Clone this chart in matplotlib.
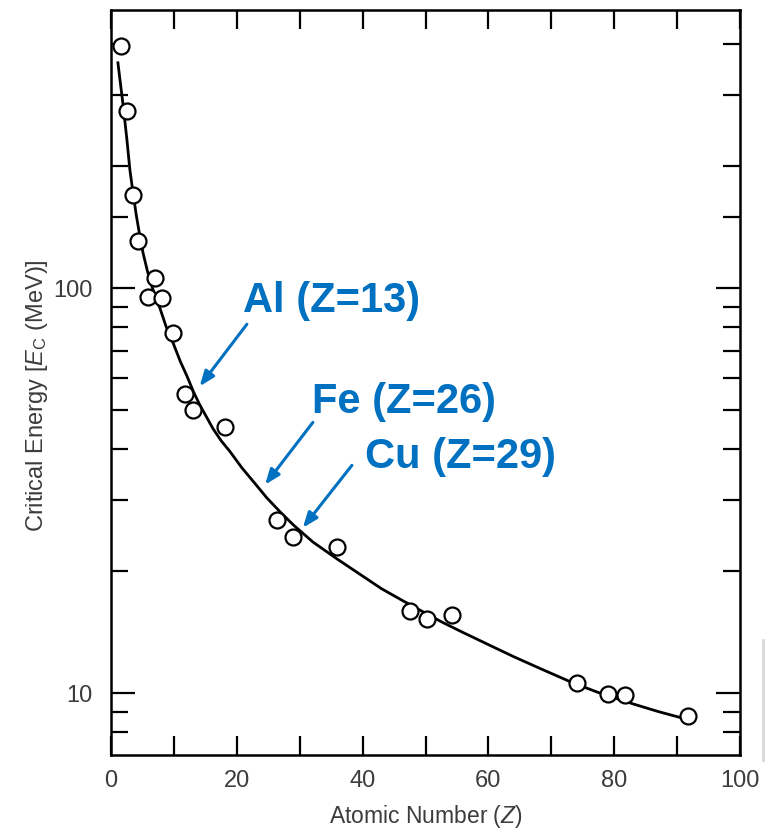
import numpy as np
import matplotlib
matplotlib.use("Agg")
import matplotlib.pyplot as plt
from matplotlib.lines import Line2D
from matplotlib.ticker import FixedLocator, NullFormatter
from matplotlib import font_manager

# --------------------------------------------------
# DATA
# --------------------------------------------------
# measured critical energies (open circles)
z_points = [1.6, 2.5, 3.5, 4.3, 5.9, 7.0, 8.1, 9.9, 11.8, 13.0, 18.1,
            26.4, 28.9, 35.9, 47.5, 50.2, 54.2, 74.1, 79.0, 81.7, 91.8]
ec_points = [395, 274, 170, 131, 95, 106, 94.5, 77.4, 54.6, 50.0, 45.3,
             26.8, 24.3, 23.0, 15.9, 15.2, 15.6, 10.6, 9.93, 9.9, 8.77]

# hand-drawn fit curve, traced point by point
z_curve = [1.1, 1.5, 1.9, 2.5, 3.0, 3.5, 4.0, 4.6, 5.1, 5.8, 6.5, 7.2, 7.8,
           8.8, 9.9, 11.0, 12.1, 13.1, 14.1, 15.2, 16.2, 17.5, 18.9, 20.8,
           22.9, 24.8, 26.9, 29.0, 32.1, 36.0, 40.1, 43.0, 46.4, 49.5, 52.5,
           56.0, 60.3, 64.0, 68.2, 73.4, 77.7, 83.0, 87.0, 90.5, 92.0]
ec_curve = [360, 320, 285, 235, 196, 172, 152, 134, 122, 110, 101, 94, 89,
            80, 73, 66, 60.5, 55.5, 51.5, 48, 45, 42, 39.5, 36,
            32.9, 30.3, 28.0, 26.0, 23.6, 21.4, 19.4, 18.1, 16.9, 15.9, 15.0,
            14.1, 13.1, 12.3, 11.5, 10.6, 10.0, 9.4, 9.0, 8.7, 8.58]

# annotations: label, text anchor (Z, Ec), arrow start, arrow tip
ann_labels = ["Al (Z=13)", "Fe (Z=26)", "Cu (Z=29)"]
ann_text_xy = [(21.0, 92.9), (32.0, 52.2), (40.4, 38.2)]
ann_arrow_from = [(21.6, 81.4), (32.1, 46.6), (38.3, 36.5)]
ann_arrow_to = [(14.1, 57.2), (24.5, 32.7), (30.5, 25.6)]

x_major = [0, 20, 40, 60, 80, 100]
x_minor = [10, 30, 50, 70, 90]
y_major = [10, 100]
y_minor = [8, 9, 20, 30, 40, 50, 60, 70, 80, 90, 150, 200, 300, 400]

# --------------------------------------------------
# STYLE
# --------------------------------------------------
plt.rcParams["font.family"] = ["Liberation Sans", "DejaVu Sans"]
plt.rcParams["mathtext.fontset"] = "custom"
plt.rcParams["mathtext.rm"] = "Liberation Sans"
plt.rcParams["mathtext.it"] = "Liberation Sans:italic"

# narrow face for the tick numbers if it is there
installed = {f.name for f in font_manager.fontManager.ttflist}
tick_family = "Liberation Sans Narrow" if "Liberation Sans Narrow" in installed else "Liberation Sans"

GRAY_TXT = "#3c3c3c"
BLUE = "#0070C0"

fig = plt.figure(figsize=(7.7, 8.35), dpi=100)
ax = fig.add_axes([111 / 770, 80 / 835, 629 / 770, 745 / 835])

ax.set_yscale("log")
ax.set_xlim(0, 100)
ax.set_ylim(7.03, 486)

ax.plot(z_curve, ec_curve, color="black", lw=2.0, zorder=2)
ax.plot(z_points, ec_points, "o", ms=11.5, mfc="white", mec="black",
        mew=1.6, zorder=3)

for lab, txy, a0, a1 in zip(ann_labels, ann_text_xy, ann_arrow_from, ann_arrow_to):
    ax.text(txy[0], txy[1], lab, color=BLUE, fontsize=30, fontweight="bold",
            ha="left", va="center")
    ax.annotate("", xy=a1, xytext=a0,
                arrowprops=dict(arrowstyle="-|>,head_length=0.9,head_width=0.35",
                                color=BLUE, lw=2.2, shrinkA=0, shrinkB=0))

# ticks: inward on all four sides
ax.xaxis.set_major_locator(FixedLocator(x_major))
ax.xaxis.set_minor_locator(FixedLocator(x_minor))
ax.yaxis.set_major_locator(FixedLocator(y_major))
ax.yaxis.set_minor_locator(FixedLocator(y_minor))
ax.yaxis.set_minor_formatter(NullFormatter())
ax.set_xticklabels([str(v) for v in x_major], family=tick_family)
ax.set_yticklabels([str(v) for v in y_major], family=tick_family)

ax.tick_params(which="both", direction="in", top=True, right=True,
               width=1.6, color="black", labelsize=17, labelcolor=GRAY_TXT)
ax.tick_params(axis="x", which="both", length=14, pad=11)
ax.tick_params(axis="y", which="major", length=17, pad=13)
ax.tick_params(axis="y", which="minor", length=12)

for s in ax.spines.values():
    s.set_linewidth(1.8)

ax.set_xlabel("Atomic Number ($Z$)", fontsize=16.5, color=GRAY_TXT, labelpad=8)
ax.set_ylabel(r"Critical Energy [$E_\mathrm{C}$ (MeV)]", fontsize=17,
              color=GRAY_TXT)
ax.yaxis.set_label_coords(-0.097, 0.482)

# faint scan artefact at right edge
fig.add_artist(Line2D([763 / 770, 763 / 770], [75 / 835, 195 / 835],
                      color="#d8d8d8", lw=2))

fig.savefig("out.png", dpi=100, facecolor="white")
